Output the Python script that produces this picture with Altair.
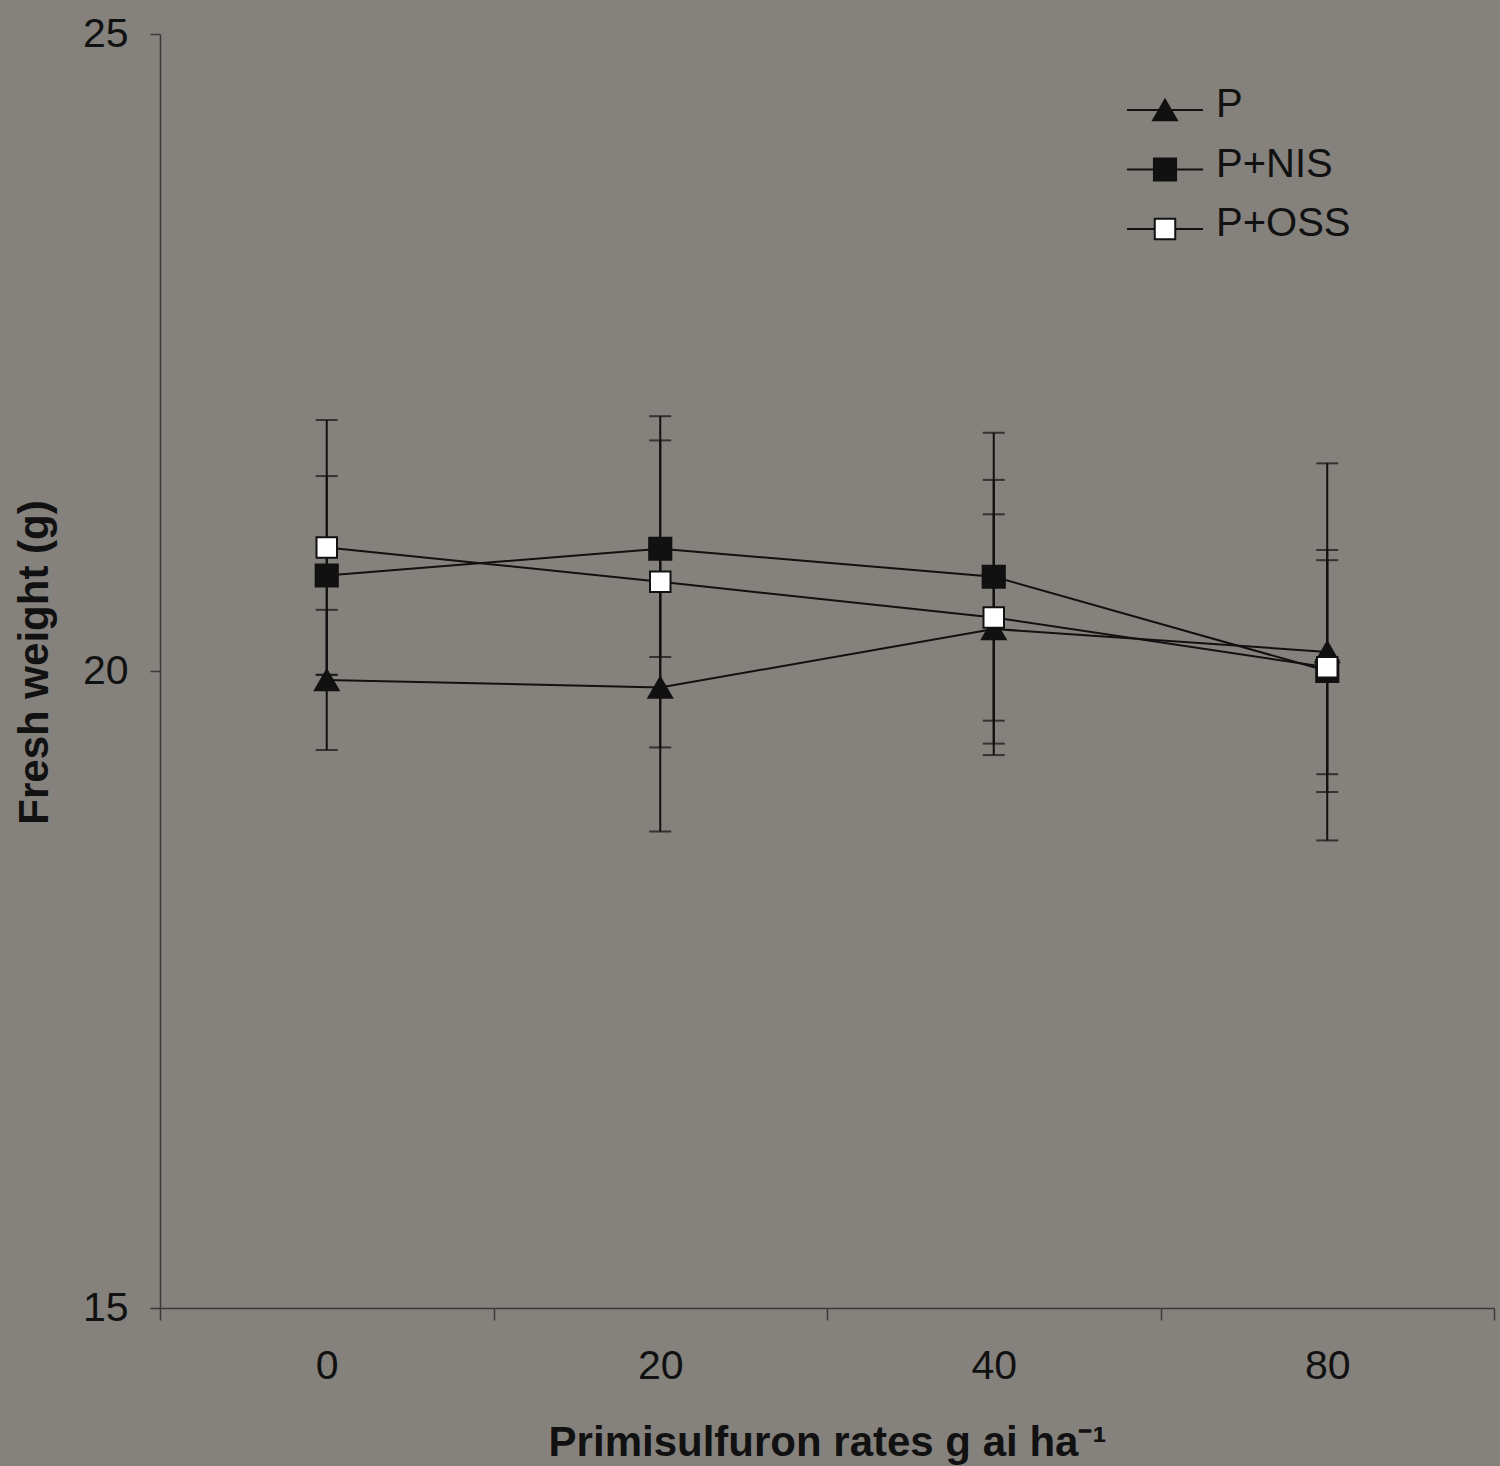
import altair as alt
import pandas as pd

# Primisulfuron rates (g ai/ha) and treatment series
rates = ["0", "20", "40", "80"]
series_names = ["P", "P+NIS", "P+OSS"]

# Mean fresh weight (g) and standard error per rate
p_mean = [19.93, 19.87, 20.33, 20.15]
p_err = [0.55, 1.13, 0.90, 1.48]
nis_mean = [20.75, 20.96, 20.74, 20.00]
nis_err = [0.78, 0.85, 1.13, 0.95]
oss_mean = [20.97, 20.70, 20.42, 20.03]
oss_err = [1.00, 1.30, 1.08, 0.84]

y_ticks = [15, 20, 25]

rows = []
for name, means, errs in zip(series_names, [p_mean, nis_mean, oss_mean], [p_err, nis_err, oss_err]):
    for r, m, e in zip(rates, means, errs):
        rows.append({"rate": r, "series": name, "mean": m, "low": m - e, "high": m + e})
df = pd.DataFrame(rows)
legend_df = pd.DataFrame({"series": series_names})

BG = "#85827d"
INK = "#111111"
AXIS = "#3a3a3a"
FONT = "Liberation Sans"

shape_scale = alt.Scale(domain=series_names, range=["triangle-up", "square", "square"])
fill_scale = alt.Scale(domain=series_names, range=[INK, INK, "#ffffff"])
size_scale = alt.Scale(domain=series_names, range=[560, 420, 420])

x_enc = alt.X(
    "rate:N",
    sort=rates,
    scale=alt.Scale(type="band", domain=rates, paddingInner=0, paddingOuter=0),
    axis=alt.Axis(
        title="Primisulfuron rates g ai ha⁻¹",
        labelAngle=0,
        tickBand="extent",
        tickSize=12,
        labelPadding=26,
        labelFontSize=41,
        titleFontSize=42,
        titleFontWeight="bold",
        titleY=147,
        titleBaseline="alphabetic",
    ),
)
y_scale = alt.Scale(domain=[15, 25], nice=False, zero=False)
y_axis = alt.Axis(
    title="Fresh weight (g)",
    values=y_ticks,
    format="d",
    tickSize=10,
    labelPadding=22,
    labelFontSize=41,
    titleFontSize=42,
    titleFontWeight="bold",
    titleAngle=-90,
    titleX=-126,
    titleY=628,
    titleAlign="center",
    titleBaseline="middle",
)

base = alt.Chart(df)

err_rule = base.mark_rule(color=INK, strokeWidth=2).encode(
    x=x_enc,
    y=alt.Y("low:Q", scale=y_scale, axis=y_axis),
    y2="high:Q",
    detail="series:N",
)
cap_low = base.mark_tick(color=INK, size=22, thickness=2).encode(
    x=x_enc, y=alt.Y("low:Q", scale=y_scale), detail="series:N"
)
cap_high = base.mark_tick(color=INK, size=22, thickness=2).encode(
    x=x_enc, y=alt.Y("high:Q", scale=y_scale), detail="series:N"
)
lines = base.mark_line(color=INK, strokeWidth=2).encode(
    x=x_enc,
    y=alt.Y("mean:Q", scale=y_scale),
    detail="series:N",
)
points = base.mark_point(filled=True, stroke=INK, strokeWidth=2, opacity=1).encode(
    x=x_enc,
    y=alt.Y("mean:Q", scale=y_scale),
    shape=alt.Shape("series:N", scale=shape_scale, legend=None),
    fill=alt.Fill("series:N", scale=fill_scale, legend=None),
    size=alt.Size("series:N", scale=size_scale, legend=None),
)

main = alt.layer(err_rule, cap_low, cap_high, lines, points)

# Legend drawn as line + marker + label rows in the upper right
legend_y = alt.Y(
    "series:N",
    sort=series_names,
    scale=alt.Scale(type="point", domain=series_names, range=[76, 195], padding=0),
    axis=None,
)
leg_base = alt.Chart(legend_df)
leg_line = leg_base.mark_rule(color=INK, strokeWidth=2).encode(
    x=alt.value(967), x2=alt.value(1043), y=legend_y
)
leg_point = leg_base.mark_point(filled=True, stroke=INK, strokeWidth=2, opacity=1).encode(
    x=alt.value(1005),
    y=legend_y,
    shape=alt.Shape("series:N", scale=shape_scale, legend=None),
    fill=alt.Fill("series:N", scale=fill_scale, legend=None),
    size=alt.Size("series:N", scale=size_scale, legend=None),
)
leg_text = leg_base.mark_text(
    align="left", baseline="middle", dy=-5, fontSize=40, font=FONT, color=INK
).encode(x=alt.value(1056), y=legend_y, text="series:N")
legend = alt.layer(leg_line, leg_point, leg_text)

chart = (
    alt.layer(main, legend)
    .resolve_scale(y="independent")
    .properties(
        width=1334,
        height=1274,
        autosize=alt.AutoSizeParams(type="none"),
        padding={"left": 160, "top": 34, "right": 6, "bottom": 158},
        background=BG,
    )
    .configure_view(stroke=None)
    .configure_axis(
        grid=False,
        domainColor=AXIS,
        domainWidth=1.5,
        tickColor=AXIS,
        tickWidth=1.5,
        labelColor=INK,
        titleColor=INK,
        labelFont=FONT,
        titleFont=FONT,
    )
)

chart.save("out.html", embed_options={"renderer": "svg", "actions": False})
